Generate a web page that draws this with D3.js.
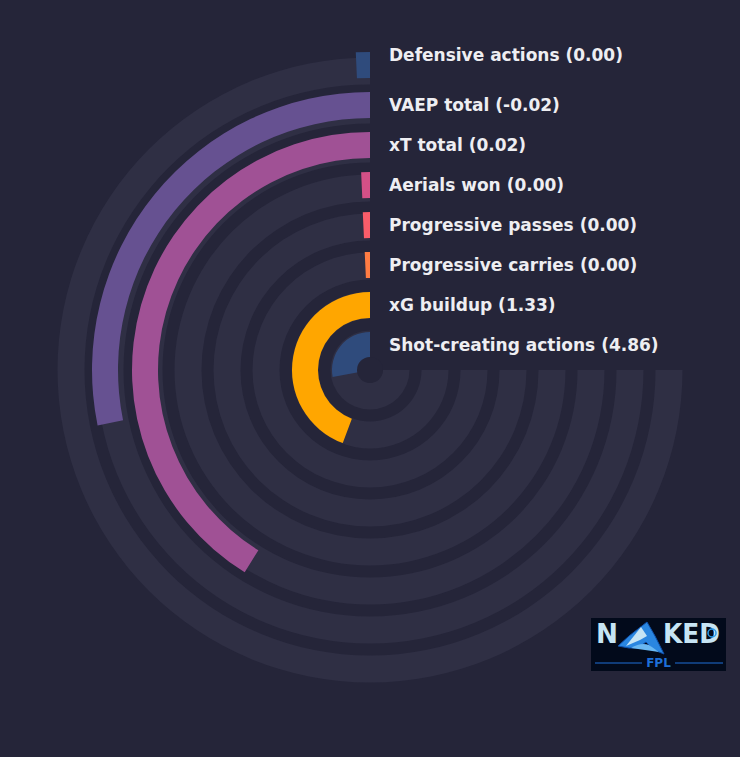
<!DOCTYPE html>
<html>
<head>
<meta charset="utf-8">
<script src="https://cdn.jsdelivr.net/npm/d3@7/dist/d3.min.js"></script>
<style>
html,body{margin:0;padding:0;background:#252539;}
svg{display:block;}
</style>
</head>
<body>
<svg id="chart" width="740" height="757"></svg>
<script>
// ---- data ----
const categories = ["Defensive actions","VAEP total","xT total","Aerials won","Progressive passes","Progressive carries","xG buildup","Shot-creating actions"];
const rawValues = ["0.00","-0.02","0.02","0.00","0.00","0.00","1.33","4.86"];
const percentiles = [0.95, 37.6, 54.9, 0.95, 0.97, 0.95, 59.1, 37.2];
const colors = ["#2f4b7c","#665191","#a05195","#d45087","#f95d6a","#ff7c43","#ffa600","#2f4b7c"];

const svg = d3.select("#chart");
const W = 740, H = 757;
svg.append("rect").attr("width", W).attr("height", H).attr("fill", "#252539");

const cx = 370, cy = 370;
const g = svg.append("g").attr("transform", `translate(${cx},${cy})`);

const idx = d3.range(categories.length);
const rTrack = d3.scaleLinear().domain([0, 7]).range([312.5, 39.5]);
const rBar = d3.scaleLinear().domain([0, 7]).range([318, 38]);
const trackW = 27, barW = 26;
const angle = d3.scaleLinear().domain([0, 100]).range([0, -1.5 * Math.PI]);

const arc = d3.arc();

// tracks
g.selectAll("path.track").data(idx).join("path")
  .attr("class", "track")
  .attr("fill", "#2f2f44")
  .attr("d", i => arc({innerRadius: rTrack(i) - trackW, outerRadius: rTrack(i), startAngle: 0, endAngle: angle(100)}));

// bars
g.selectAll("path.bar").data(idx).join("path")
  .attr("class", "bar")
  .attr("fill", i => colors[i])
  .attr("d", i => arc({innerRadius: rBar(i) - barW, outerRadius: rBar(i), startAngle: 0, endAngle: angle(percentiles[i])}));

// hub
g.append("circle").attr("r", 13).attr("fill", "#252539");

// labels
g.selectAll("text.lab").data(idx).join("text")
  .attr("class", "lab")
  .attr("x", 19)
  .attr("y", i => -(rBar(i) - barW / 2) - (i === 0 ? 10 : 0))
  .attr("dominant-baseline", "central")
  .attr("fill", "#eeeef2")
  .attr("font-family", "DejaVu Sans, sans-serif")
  .attr("font-weight", "bold")
  .attr("font-size", 17)
  .text(i => `${categories[i]} (${rawValues[i]})`);

// logo
const logo = svg.append("g").attr("transform", "translate(591,618)");
logo.append("rect").attr("width", 135).attr("height", 53).attr("fill", "#020a1b");
const lt = logo.append("g").attr("font-family", "DejaVu Sans, sans-serif").attr("font-weight", "bold").attr("fill", "#c6e4f4");
lt.append("text").attr("x", 5).attr("y", 25).attr("font-size", 27).attr("textLength", 22).attr("lengthAdjust", "spacingAndGlyphs").text("N");
lt.append("text").attr("x", 72).attr("y", 25).attr("font-size", 27).attr("textLength", 57).attr("lengthAdjust", "spacingAndGlyphs").text("KED");
logo.append("path")
  .attr("d", "M27,28 L38,18 L56,4 L64,18 L73,36 L63,32 L55,24 L47,30 L38,30 Z")
  .attr("fill", "#2a86e0").attr("stroke", "#0f4fa8").attr("stroke-width", 1);
logo.append("path").attr("d", "M35,28 L50,9 L56,18 L49,22 Z").attr("fill", "#c6e4f4");
logo.append("path").attr("d", "M40,30 Q50,24 58,27 L68,34 Z").attr("fill", "#6ab8f2");
logo.append("circle").attr("cx", 121).attr("cy", 15).attr("r", 4).attr("fill", "none").attr("stroke", "#2a9ae8").attr("stroke-width", 1.5);
logo.append("line").attr("x1", 4).attr("x2", 51).attr("y1", 45).attr("y2", 45).attr("stroke", "#1e6fd8").attr("stroke-width", 1);
logo.append("line").attr("x1", 84).attr("x2", 132).attr("y1", 45).attr("y2", 45).attr("stroke", "#1e6fd8").attr("stroke-width", 1);
logo.append("text").attr("x", 67.5).attr("y", 49).attr("text-anchor", "middle")
  .attr("font-family", "DejaVu Sans, sans-serif").attr("font-weight", "bold").attr("font-size", 12)
  .attr("fill", "#1e6fd8").text("FPL");
</script>
</body>
</html>
